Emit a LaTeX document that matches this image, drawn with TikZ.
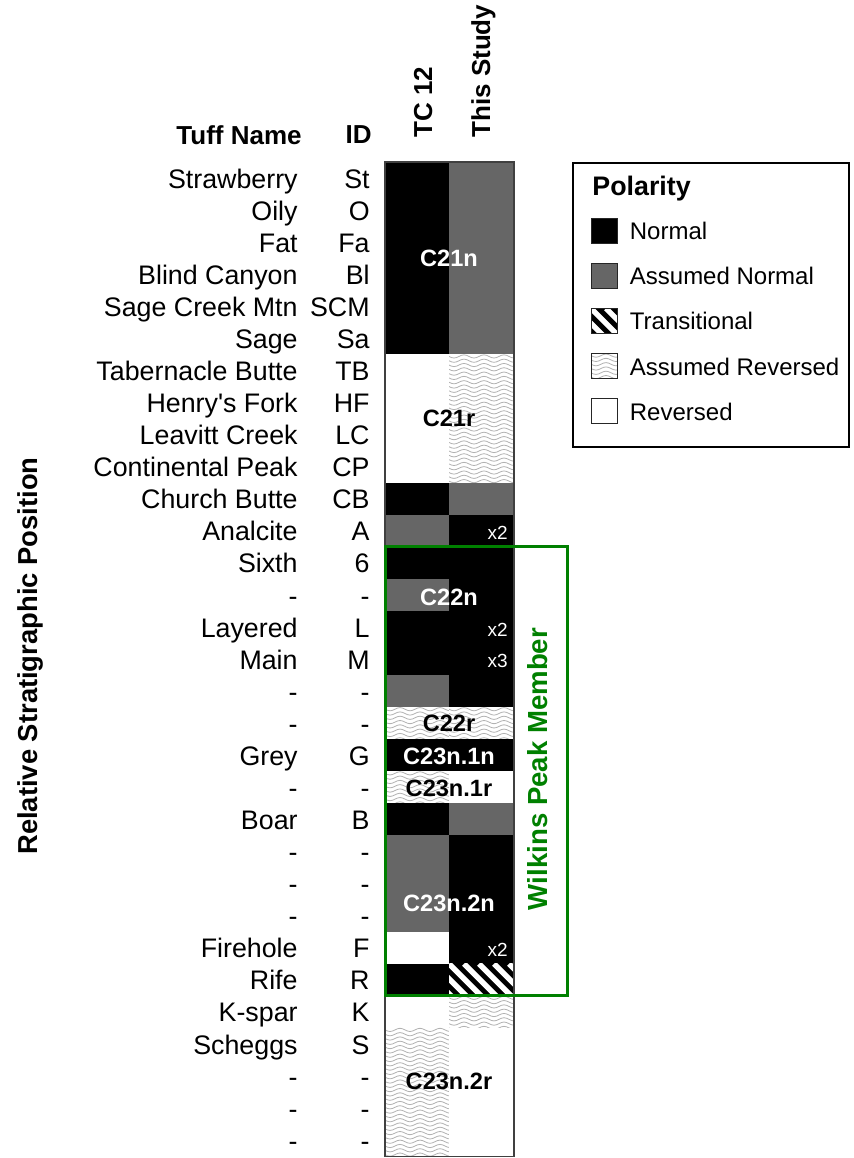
\documentclass[tikz,border=0pt]{standalone}
\usepackage{fontspec}
\setmainfont{Liberation Sans}
\usetikzlibrary{positioning, calc}
\definecolor{wpgreen}{RGB}{0,128,0}

\begin{document}
\begin{tikzpicture}[x=0.5pt, y=-0.5pt,
  tuff/.style={font=\fontsize{13.4}{15}\selectfont, inner sep=0pt, text height=1.45ex, text depth=0.3ex},
  hdr/.style={font=\bfseries\fontsize{13}{15}\selectfont, inner sep=0pt},
  chron/.style={font=\bfseries\fontsize{11.8}{14}\selectfont, inner sep=0pt},
  mult/.style={font=\fontsize{9.5}{11}\selectfont, text=white, inner sep=0pt, anchor=east},
  nrm/.style={fill=black},
  asn/.style={fill=black!60},
  rev/.style={fill=white},
  asr/.style={fill=white, path picture={
    \foreach \k in {0,...,30}
      \draw[gray!60, line width=0.4pt]
        ([yshift=-\k*2.15pt-1pt]path picture bounding box.north west)
        \foreach \j in {1,...,4} { sin ++(5,1.6) cos ++(5,-1.6) sin ++(5,-1.6) cos ++(5,1.6) };
  }},
  trn/.style={fill=black, path picture={
    \foreach \k in {-6,...,8}
      \draw[white, line width=2.7pt]
        ([xshift=\k*7.5pt]path picture bounding box.north west) -- ++(90,90);
  }},
  swatch/.style={draw=black!85, line width=0.5pt, minimum width=13pt, minimum height=12.5pt, inner sep=0pt},
  legtxt/.style={font=\fontsize{12}{14}\selectfont, inner sep=0pt, text height=1.45ex, text depth=0.3ex, anchor=west},
]
  \useasboundingbox (0,0) rectangle (854,1158);
  \def\rowh{32.07}
  \def\ytop{162}
  \def\xa{385}
  \def\xb{449}
  \def\xc{514}

  \foreach \r/\s/\cl/\cr in {1/6/nrm/asn, 7/10/rev/asr, 11/11/nrm/asn, 12/12/asn/nrm, 13/13/nrm/nrm,
      14/14/asn/nrm, 15/16/nrm/nrm, 17/17/asn/nrm, 18/18/asr/asr, 19/19/nrm/nrm, 20/20/asr/rev,
      21/21/nrm/asn, 22/24/asn/nrm, 25/25/rev/nrm, 26/26/nrm/trn, 27/27/rev/asr, 28/31/asr/rev} {
    \path[\cl] (\xa, {\ytop+(\r-1)*\rowh}) rectangle (\xb, {\ytop+\s*\rowh});
    \path[\cr] (\xb, {\ytop+(\r-1)*\rowh}) rectangle (\xc, {\ytop+\s*\rowh});
  }
  \draw[black!75, line width=0.6pt] (\xa,\ytop) rectangle (\xc, {\ytop+31*\rowh});

  \foreach \nm/\id [count=\i] in {Strawberry/St, Oily/O, Fat/Fa, Blind Canyon/Bl, Sage Creek Mtn/SCM,
      Sage/Sa, Tabernacle Butte/TB, Henry\textquotesingle s Fork/HF, Leavitt Creek/LC, Continental Peak/CP,
      Church Butte/CB, Analcite/A, Sixth/6, -/-, Layered/L, Main/M, -/-, -/-, Grey/G, -/-, Boar/B,
      -/-, -/-, -/-, Firehole/F, Rife/R, K-spar/K, Scheggs/S, -/-, -/-, -/-} {
    \node[tuff, anchor=east] (name\i) at (298, {\ytop+(\i-0.5)*\rowh+4}) {\nm};
    \node[tuff, anchor=east] (id\i) at (370, {\ytop+(\i-0.5)*\rowh+4}) {\id};
  }

  \node[hdr, anchor=east] (tuffhd) at (302,135) {Tuff Name};
  \node[hdr, anchor=east] (idhd) at (372,135) {ID};
  \node[hdr, rotate=90, anchor=base west] (tchd) at (432,138) {TC 12};
  \node[hdr, rotate=90, anchor=base west] (studyhd) at (490,138) {This Study};
  \node[hdr, font=\bfseries\fontsize{13.7}{16}\selectfont, rotate=90] (relpos) at (30,656) {Relative Stratigraphic Position};

  \node[chron, text=white] (c21n) at (\xb,258) {C21n};
  \node[chron] (c21r) at (\xb,418) {C21r};
  \node[chron, text=white] (c22n) at (\xb,597) {C22n};
  \node[chron] (c22r) at (\xb,723) {C22r};
  \node[chron, text=white] (c231n) at (\xb,756) {C23n.1n};
  \node[chron] (c231r) at (\xb,788) {C23n.1r};
  \node[chron, text=white] (c232n) at (\xb,903) {C23n.2n};
  \node[chron] (c232r) at (\xb,1081) {C23n.2r};

  \node[mult] (mA) at (508,533) {x2};
  \node[mult] (mL) at (508,630) {x2};
  \node[mult] (mM) at (508,661) {x3};
  \node[mult] (mF) at (508,950) {x2};

  \draw[wpgreen, line width=1.5pt] (\xa, {\ytop+12*\rowh}) rectangle (567, {\ytop+26*\rowh});
  \node[hdr, font=\bfseries\fontsize{13.8}{16}\selectfont, text=wpgreen, rotate=90, anchor=base] (wpm) at (547,769) {Wilkins Peak Member};

  \draw[line width=1pt] (573,163) rectangle (849,447);
  \node[hdr, font=\bfseries\fontsize{13.4}{16}\selectfont, anchor=west] (polhd) at (592,189) {Polarity};
  \foreach \st/\lb [count=\i] in {nrm/Normal, asn/Assumed Normal, trn/Transitional, asr/Assumed Reversed, rev/Reversed} {
    \node[swatch, \st] (sw\i) at (604, {230.5+45.2*(\i-1)}) {};
    \node[legtxt, right=6pt of sw\i, yshift=-1.5pt] (lg\i) {\lb};
  }
\end{tikzpicture}
\end{document}
